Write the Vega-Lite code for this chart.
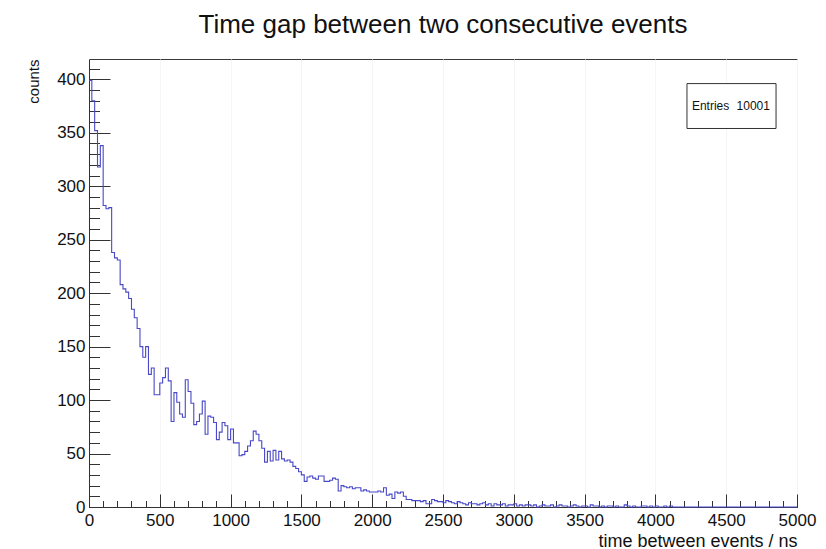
{
  "$schema": "https://vega.github.io/schema/vega-lite/v6.json",
  "width": 708,
  "height": 448,
  "autosize": "none",
  "padding": {"left": 89, "top": 59, "right": 29, "bottom": 42},
  "background": "white",
  "config": {
    "font": "Liberation Sans",
    "view": {"stroke": "#3a3a3a", "strokeWidth": 1}
  },
  "title": {
    "text": "Time gap between two consecutive events",
    "fontSize": 26,
    "fontWeight": "normal",
    "color": "#111111",
    "anchor": "middle",
    "frame": "group",
    "baseline": "alphabetic",
    "offset": 0
  },
  "datasets": {
    "hist": [
      {"t": 0, "n": 399}, {"t": 20, "n": 380}, {"t": 40, "n": 352}, {"t": 60, "n": 318}, {"t": 80, "n": 338},
      {"t": 100, "n": 282}, {"t": 120, "n": 279}, {"t": 140, "n": 280}, {"t": 160, "n": 238}, {"t": 180, "n": 233},
      {"t": 200, "n": 231}, {"t": 220, "n": 208}, {"t": 240, "n": 204}, {"t": 260, "n": 201}, {"t": 280, "n": 195},
      {"t": 300, "n": 185}, {"t": 320, "n": 177}, {"t": 340, "n": 167}, {"t": 360, "n": 150}, {"t": 380, "n": 140},
      {"t": 400, "n": 150}, {"t": 420, "n": 124}, {"t": 440, "n": 130}, {"t": 460, "n": 105}, {"t": 480, "n": 105},
      {"t": 500, "n": 116}, {"t": 520, "n": 121}, {"t": 540, "n": 130}, {"t": 560, "n": 118}, {"t": 580, "n": 80},
      {"t": 600, "n": 107}, {"t": 620, "n": 98}, {"t": 640, "n": 87}, {"t": 660, "n": 84}, {"t": 680, "n": 119},
      {"t": 700, "n": 108}, {"t": 720, "n": 97}, {"t": 740, "n": 77}, {"t": 760, "n": 80}, {"t": 780, "n": 87},
      {"t": 800, "n": 99}, {"t": 820, "n": 68}, {"t": 840, "n": 85}, {"t": 860, "n": 84}, {"t": 880, "n": 79},
      {"t": 900, "n": 63}, {"t": 920, "n": 70}, {"t": 940, "n": 79}, {"t": 960, "n": 76}, {"t": 980, "n": 63},
      {"t": 1000, "n": 73}, {"t": 1020, "n": 60}, {"t": 1040, "n": 60}, {"t": 1060, "n": 48}, {"t": 1080, "n": 49},
      {"t": 1100, "n": 52}, {"t": 1120, "n": 57}, {"t": 1140, "n": 62}, {"t": 1160, "n": 71}, {"t": 1180, "n": 68},
      {"t": 1200, "n": 62}, {"t": 1220, "n": 55}, {"t": 1240, "n": 42}, {"t": 1260, "n": 52}, {"t": 1280, "n": 43},
      {"t": 1300, "n": 53}, {"t": 1320, "n": 44}, {"t": 1340, "n": 52}, {"t": 1360, "n": 45}, {"t": 1380, "n": 43},
      {"t": 1400, "n": 44}, {"t": 1420, "n": 42}, {"t": 1440, "n": 38}, {"t": 1460, "n": 36}, {"t": 1480, "n": 33},
      {"t": 1500, "n": 30}, {"t": 1520, "n": 24}, {"t": 1540, "n": 28}, {"t": 1560, "n": 29}, {"t": 1580, "n": 27},
      {"t": 1600, "n": 26}, {"t": 1620, "n": 29}, {"t": 1640, "n": 29}, {"t": 1660, "n": 24}, {"t": 1680, "n": 24},
      {"t": 1700, "n": 25}, {"t": 1720, "n": 27}, {"t": 1740, "n": 26}, {"t": 1760, "n": 15}, {"t": 1780, "n": 20},
      {"t": 1800, "n": 19}, {"t": 1820, "n": 18}, {"t": 1840, "n": 19}, {"t": 1860, "n": 17}, {"t": 1880, "n": 18},
      {"t": 1900, "n": 18}, {"t": 1920, "n": 15}, {"t": 1940, "n": 16}, {"t": 1960, "n": 15}, {"t": 1980, "n": 14},
      {"t": 2000, "n": 14}, {"t": 2020, "n": 14}, {"t": 2040, "n": 15}, {"t": 2060, "n": 14}, {"t": 2080, "n": 18},
      {"t": 2100, "n": 11}, {"t": 2120, "n": 12}, {"t": 2140, "n": 8}, {"t": 2160, "n": 14}, {"t": 2180, "n": 13},
      {"t": 2200, "n": 14}, {"t": 2220, "n": 10}, {"t": 2240, "n": 7}, {"t": 2260, "n": 7}, {"t": 2280, "n": 6},
      {"t": 2300, "n": 6}, {"t": 2320, "n": 6}, {"t": 2340, "n": 5}, {"t": 2360, "n": 6}, {"t": 2380, "n": 3},
      {"t": 2400, "n": 3}, {"t": 2420, "n": 7}, {"t": 2440, "n": 6}, {"t": 2460, "n": 5}, {"t": 2480, "n": 5},
      {"t": 2500, "n": 4}, {"t": 2520, "n": 6}, {"t": 2540, "n": 5}, {"t": 2560, "n": 4}, {"t": 2580, "n": 3},
      {"t": 2600, "n": 5}, {"t": 2620, "n": 4}, {"t": 2640, "n": 3}, {"t": 2660, "n": 2}, {"t": 2680, "n": 4},
      {"t": 2700, "n": 3}, {"t": 2720, "n": 3}, {"t": 2740, "n": 2}, {"t": 2760, "n": 3}, {"t": 2780, "n": 4},
      {"t": 2800, "n": 2}, {"t": 2820, "n": 3}, {"t": 2840, "n": 1}, {"t": 2860, "n": 3}, {"t": 2880, "n": 2},
      {"t": 2900, "n": 2}, {"t": 2920, "n": 3}, {"t": 2940, "n": 1}, {"t": 2960, "n": 2}, {"t": 2980, "n": 2},
      {"t": 3000, "n": 3}, {"t": 3020, "n": 1}, {"t": 3040, "n": 2}, {"t": 3060, "n": 1}, {"t": 3080, "n": 2},
      {"t": 3100, "n": 2}, {"t": 3120, "n": 1}, {"t": 3140, "n": 2}, {"t": 3160, "n": 0}, {"t": 3180, "n": 1},
      {"t": 3200, "n": 2}, {"t": 3220, "n": 1}, {"t": 3240, "n": 1}, {"t": 3260, "n": 2}, {"t": 3280, "n": 0},
      {"t": 3300, "n": 1}, {"t": 3320, "n": 2}, {"t": 3340, "n": 1}, {"t": 3360, "n": 1}, {"t": 3380, "n": 0},
      {"t": 3400, "n": 1}, {"t": 3420, "n": 2}, {"t": 3440, "n": 1}, {"t": 3460, "n": 0}, {"t": 3480, "n": 1},
      {"t": 3500, "n": 1}, {"t": 3520, "n": 0}, {"t": 3540, "n": 2}, {"t": 3560, "n": 1}, {"t": 3580, "n": 1},
      {"t": 3600, "n": 0}, {"t": 3620, "n": 1}, {"t": 3640, "n": 0}, {"t": 3660, "n": 1}, {"t": 3680, "n": 1},
      {"t": 3700, "n": 0}, {"t": 3720, "n": 1}, {"t": 3740, "n": 0}, {"t": 3760, "n": 0}, {"t": 3780, "n": 2},
      {"t": 3800, "n": 1}, {"t": 3820, "n": 0}, {"t": 3840, "n": 1}, {"t": 3860, "n": 0}, {"t": 3880, "n": 0},
      {"t": 3900, "n": 1}, {"t": 3920, "n": 1}, {"t": 3940, "n": 0}, {"t": 3960, "n": 1}, {"t": 3980, "n": 0},
      {"t": 4000, "n": 1}, {"t": 4020, "n": 0}, {"t": 4040, "n": 0}, {"t": 4060, "n": 1}, {"t": 4080, "n": 0},
      {"t": 4100, "n": 1}, {"t": 4120, "n": 0}, {"t": 4140, "n": 0}, {"t": 4160, "n": 0}, {"t": 4180, "n": 0},
      {"t": 4200, "n": 0}, {"t": 4220, "n": 0}, {"t": 4240, "n": 0}, {"t": 4260, "n": 0}, {"t": 4280, "n": 0},
      {"t": 4300, "n": 0}, {"t": 4320, "n": 0}, {"t": 4340, "n": 0}, {"t": 4360, "n": 0}, {"t": 4380, "n": 0},
      {"t": 4400, "n": 0}, {"t": 4420, "n": 0}, {"t": 4440, "n": 0}, {"t": 4460, "n": 0}, {"t": 4480, "n": 0},
      {"t": 4500, "n": 0}, {"t": 4520, "n": 0}, {"t": 4540, "n": 0}, {"t": 4560, "n": 0}, {"t": 4580, "n": 0},
      {"t": 4600, "n": 0}, {"t": 4620, "n": 0}, {"t": 4640, "n": 0}, {"t": 4660, "n": 0}, {"t": 4680, "n": 0},
      {"t": 4700, "n": 0}, {"t": 4720, "n": 0}, {"t": 4740, "n": 0}, {"t": 4760, "n": 0}, {"t": 4780, "n": 0},
      {"t": 4800, "n": 0}, {"t": 4820, "n": 0}, {"t": 4840, "n": 0}, {"t": 4860, "n": 0}, {"t": 4880, "n": 0},
      {"t": 4900, "n": 0}, {"t": 4920, "n": 0}, {"t": 4940, "n": 0}, {"t": 4960, "n": 0}, {"t": 4980, "n": 0},
      {"t": 5000, "n": 0}
    ],
    "stats": [{"label": "Entries", "value": "10001"}]
  },
  "layer": [
    {
      "data": {"name": "hist"},
      "mark": {"type": "line", "interpolate": "step-after", "color": "#4848c8", "strokeWidth": 1.1},
      "encoding": {
        "x": {
          "field": "t",
          "type": "quantitative",
          "scale": {"domain": [0, 5000], "nice": false, "zero": true},
          "axis": {
            "orient": "bottom",
            "values": [0, 500, 1000, 1500, 2000, 2500, 3000, 3500, 4000, 4500, 5000],
            "format": "d",
            "tickSize": -13,
            "tickColor": "#333333",
            "domainColor": "#333333",
            "labelPadding": 18,
            "labelFontSize": 17,
            "labelColor": "#111111",
            "labelFlush": false,
            "labelOverlap": false,
            "grid": true,
            "gridColor": "#f5f5f5",
            "title": "time between events / ns",
            "titleFontSize": 18,
            "titleFontWeight": "normal",
            "titleColor": "#111111",
            "titleAlign": "right",
            "titleBaseline": "alphabetic",
            "titleX": 708,
            "titleY": 39
          }
        },
        "y": {
          "field": "n",
          "type": "quantitative",
          "scale": {"domain": [0, 419], "nice": false, "zero": true},
          "axis": {
            "orient": "left",
            "values": [0, 50, 100, 150, 200, 250, 300, 350, 400],
            "format": "d",
            "tickSize": -21,
            "tickColor": "#333333",
            "domainColor": "#333333",
            "labelPadding": 25,
            "labelFontSize": 17,
            "labelColor": "#111111",
            "labelFlush": false,
            "labelOverlap": false,
            "grid": false,
            "title": "counts",
            "titleFontSize": 15,
            "titleFontWeight": "normal",
            "titleColor": "#111111",
            "titleAngle": -90,
            "titleAlign": "right",
            "titleBaseline": "bottom",
            "titleX": -48,
            "titleY": 0
          }
        }
      }
    },
    {
      "data": {"name": "stats"},
      "mark": {"type": "rect", "fill": "white", "stroke": "#333333", "strokeWidth": 1},
      "encoding": {
        "x": {
          "datum": 4223,
          "type": "quantitative",
          "axis": {
            "orient": "bottom",
            "values": [0, 100, 200, 300, 400, 500, 600, 700, 800, 900, 1000, 1100, 1200, 1300, 1400, 1500, 1600, 1700, 1800, 1900, 2000, 2100, 2200, 2300, 2400, 2500, 2600, 2700, 2800, 2900, 3000, 3100, 3200, 3300, 3400, 3500, 3600, 3700, 3800, 3900, 4000, 4100, 4200, 4300, 4400, 4500, 4600, 4700, 4800, 4900, 5000],
            "tickSize": -6.5,
            "tickColor": "#333333",
            "labels": false,
            "domain": false,
            "grid": false,
            "title": null
          }
        },
        "x2": {"datum": 4852},
        "y": {
          "datum": 396,
          "type": "quantitative",
          "axis": {
            "orient": "left",
            "values": [0, 10, 20, 30, 40, 50, 60, 70, 80, 90, 100, 110, 120, 130, 140, 150, 160, 170, 180, 190, 200, 210, 220, 230, 240, 250, 260, 270, 280, 290, 300, 310, 320, 330, 340, 350, 360, 370, 380, 390, 400, 410],
            "tickSize": -10.5,
            "tickColor": "#333333",
            "labels": false,
            "domain": false,
            "grid": false,
            "title": null
          }
        },
        "y2": {"datum": 354}
      }
    },
    {
      "data": {"name": "stats"},
      "mark": {"type": "text", "align": "left", "baseline": "middle", "fontSize": 12, "color": "#111111"},
      "encoding": {
        "x": {"datum": 4258, "type": "quantitative", "axis": null},
        "y": {"datum": 375, "type": "quantitative", "axis": null},
        "text": {"field": "label"}
      }
    },
    {
      "data": {"name": "stats"},
      "mark": {"type": "text", "align": "right", "baseline": "middle", "fontSize": 12, "color": "#111111"},
      "encoding": {
        "x": {"datum": 4809, "type": "quantitative", "axis": null},
        "y": {"datum": 375, "type": "quantitative", "axis": null},
        "text": {"field": "value"}
      }
    }
  ],
  "resolve": {"axis": {"x": "independent", "y": "independent"}}
}
